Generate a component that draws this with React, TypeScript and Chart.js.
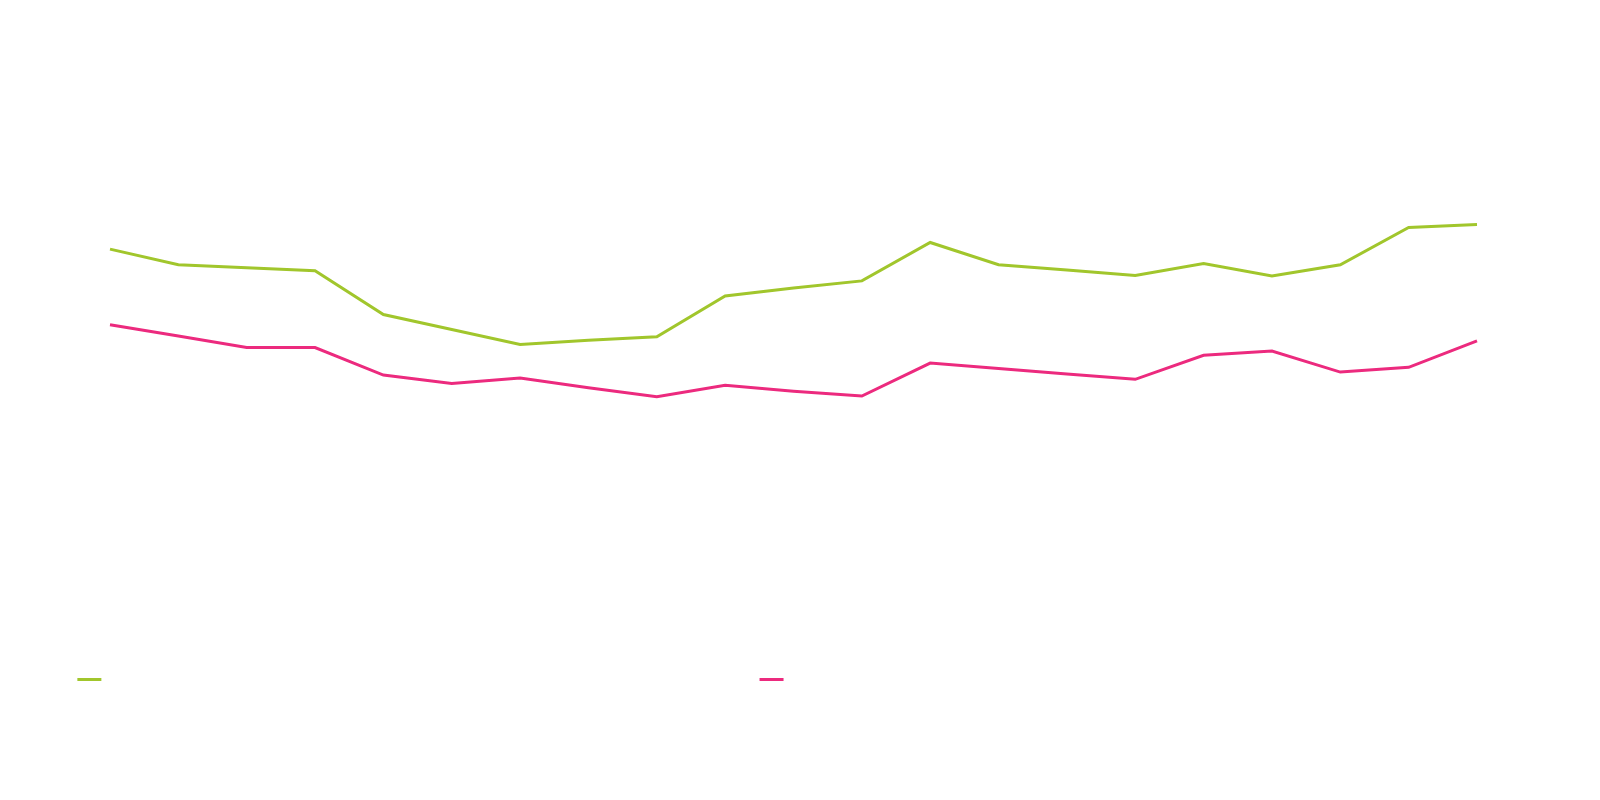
import { useEffect, useRef } from 'react';
import { Chart, registerables } from 'chart.js';

Chart.register(...registerables);

// category positions along the x axis (no tick labels are shown in the chart)
const periods = ['1', '2', '3', '4', '5', '6', '7', '8', '9', '10', '11', '12', '13', '14', '15', '16', '17', '18', '19', '20', '21'];

const greenValues = [68.4, 65.8, 65.3, 64.8, 57.5, 55.0, 52.5, 53.2, 53.8, 60.6, 61.9, 63.1, 69.5, 65.8, 64.9, 64.0, 66.0, 63.9, 65.8, 72.0, 72.5];
const pinkValues = [55.8, 53.9, 52.0, 52.0, 47.4, 46.0, 46.9, 45.3, 43.8, 45.7, 44.7, 43.9, 49.4, 48.5, 47.6, 46.7, 50.7, 51.4, 47.9, 48.7, 53.1];

const seriesNames = ['Series 1', 'Series 2'];
const seriesColors = ['#a1c62c', '#ec2a7e'];

// legend text is white on white; its length only keeps the legend spacing
const legendChars = [53, 51];

export default function App() {
  const canvasRef = useRef<HTMLCanvasElement>(null);

  useEffect(() => {
    if (!canvasRef.current) return;

    const series = [greenValues, pinkValues];

    const chart = new Chart(canvasRef.current, {
      type: 'line',
      data: {
        labels: periods,
        datasets: series.map((values, i) => ({
          label: seriesNames[i],
          data: values,
          borderColor: seriesColors[i],
          backgroundColor: seriesColors[i],
          borderWidth: 3,
          pointRadius: 0,
          pointHoverRadius: 0,
          tension: 0,
          fill: false,
        })),
      },
      options: {
        animation: false,
        responsive: true,
        maintainAspectRatio: false,
        layout: {
          padding: { top: 51.5, right: 115, bottom: 92.5, left: 0 },
        },
        plugins: {
          legend: {
            position: 'bottom',
            labels: {
              boxWidth: 24,
              boxHeight: 3,
              padding: 10,
              color: '#ffffff',
              font: { family: "'DejaVu Sans Mono'", size: 20 },
              generateLabels: (c) =>
                c.data.datasets.map((ds, i) => ({
                  text: String(ds.label).padEnd(legendChars[i]),
                  fillStyle: seriesColors[i],
                  strokeStyle: seriesColors[i],
                  fontColor: '#ffffff',
                  lineWidth: 0,
                  hidden: !c.isDatasetVisible(i),
                  datasetIndex: i,
                })),
            },
          },
          tooltip: { enabled: false },
        },
        scales: {
          x: { display: false },
          y: {
            min: 0,
            max: 100,
            ticks: { display: false },
            grid: { display: false },
            border: { display: false },
            afterFit: (scale) => {
              scale.width = 102;
            },
          },
        },
      },
    });

    return () => chart.destroy();
  }, []);

  return (
    <div style={{ position: 'relative', height: 784 }}>
      <canvas ref={canvasRef} />
    </div>
  );
}
